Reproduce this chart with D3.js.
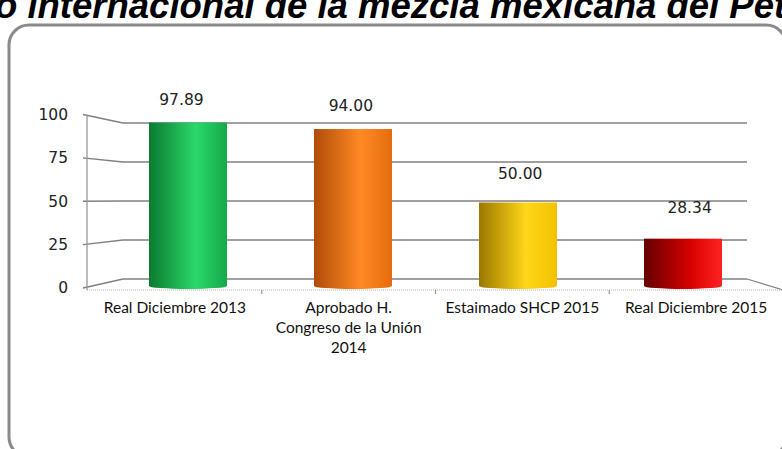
<!DOCTYPE html>
<html>
<head>
<meta charset="utf-8">
<script src="https://cdn.jsdelivr.net/npm/d3@7"></script>
<style>
  html, body { margin: 0; padding: 0; background: #fff; overflow: hidden; }
  svg { display: block; }
</style>
</head>
<body>
<svg id="chart" width="782" height="449"></svg>
<script>
// ---- data ----
const titleText = "Precio internacional de la mezcla mexicana del Petróleo";
const categories = ["Real Diciembre 2013", "Aprobado H. Congreso de la Unión 2014", "Estaimado SHCP 2015", "Real Diciembre 2015"];
const categoryLines = [["Real Diciembre 2013"], ["Aprobado H.", "Congreso de la Unión", "2014"], ["Estaimado SHCP 2015"], ["Real Diciembre 2015"]];
const values = [97.89, 94.00, 50.00, 28.34];
const valueLabels = ["97.89", "94.00", "50.00", "28.34"];
const yTicks = [0, 25, 50, 75, 100];
const barColors = [
  ["#0b7a30", "#2bd86a", "#16a84a"],
  ["#b04c08", "#ff8a25", "#e56c0e"],
  ["#9a7800", "#ffd61a", "#f2c200"],
  ["#650000", "#d80000", "#ff2424"]
];

const svg = d3.select("#chart");

// ---- title (cut at top like the reference) ----
const titleFont = 36.5;
const title = svg.append("text")
  .attr("y", 18)
  .attr("font-family", "Liberation Sans, Arial, sans-serif")
  .attr("font-weight", "bold")
  .attr("font-style", "italic")
  .attr("font-size", titleFont)
  .attr("fill", "#000")
  .text(titleText);
const probe = svg.append("text")
  .attr("font-family", "Liberation Sans, Arial, sans-serif")
  .attr("font-weight", "bold").attr("font-style", "italic").attr("font-size", titleFont)
  .text("Preci");
const prefixW = probe.node().getComputedTextLength();
probe.remove();
title.attr("x", -prefixW - 5);

// ---- frame ----
svg.append("rect")
  .attr("x", 9).attr("y", 25).attr("width", 777).attr("height", 432)
  .attr("rx", 20).attr("ry", 20)
  .attr("fill", "none").attr("stroke", "#8a8a8a").attr("stroke-width", 3);

// ---- scales (3D: front plane, back plane, bar mid plane) ----
const yFront = d3.scaleLinear().domain([0, 100]).range([288, 114.5]);
const yBack = d3.scaleLinear().domain([0, 100]).range([279, 123]);
const yMid = d3.scaleLinear().domain([0, 100]).range([286, 119]);
const xFront = d3.scaleBand().domain(categories).range([88, 783]).padding(0);
const xBack = d3.scaleBand().domain(categories).range([123, 747]).padding(0);
const xMid = d3.scaleBand().domain(categories).range([105.5, 765.5]).padding(0);
const barW = 78;

const gridColor = "#808080";

// back wall gridlines
svg.append("g").selectAll("line").data(yTicks).join("line")
  .attr("x1", xBack.range()[0]).attr("x2", xBack.range()[1])
  .attr("y1", d => yBack(d)).attr("y2", d => yBack(d))
  .attr("stroke", gridColor).attr("stroke-width", 1.5);

// side wall lines (with tick extension)
svg.append("g").selectAll("line").data(yTicks).join("line")
  .attr("x1", xFront.range()[0] - 5).attr("x2", xBack.range()[0])
  .attr("y1", d => yFront(d)).attr("y2", d => yBack(d))
  .attr("stroke", gridColor).attr("stroke-width", 1.4);

// floor right edge
svg.append("line")
  .attr("x1", xBack.range()[1]).attr("y1", yBack(0))
  .attr("x2", xFront.range()[1]).attr("y2", yFront(0) + 2)
  .attr("stroke", gridColor).attr("stroke-width", 1.3);

// y axis vertical line
svg.append("line")
  .attr("x1", xFront.range()[0] - 1).attr("x2", xFront.range()[0] - 1)
  .attr("y1", yFront(100)).attr("y2", yFront(0) + 2)
  .attr("stroke", "#999").attr("stroke-width", 1.3);

// floor front line
svg.append("line")
  .attr("x1", xFront.range()[0] - 1).attr("x2", 782)
  .attr("y1", yFront(0) + 2).attr("y2", yFront(0) + 2)
  .attr("stroke", "#b0b0b0").attr("stroke-width", 1.2).attr("stroke-dasharray", "1,1");

// x ticks between categories
svg.append("g").selectAll("line").data(categories.slice(1)).join("line")
  .attr("x1", d => xFront(d)).attr("x2", d => xFront(d))
  .attr("y1", yFront(0) + 2).attr("y2", yFront(0) + 6)
  .attr("stroke", "#999").attr("stroke-width", 1.2);

// y tick labels
svg.append("g").selectAll("text").data(yTicks).join("text")
  .attr("x", 68).attr("y", d => yFront(d))
  .attr("dy", "0.35em")
  .attr("text-anchor", "end")
  .attr("font-family", "DejaVu Sans, Verdana, sans-serif")
  .attr("font-size", 15.5)
  .attr("fill", "#222")
  .text(d => d);

// ---- bars ----
const defs = svg.append("defs");
barColors.forEach((c, i) => {
  const g = defs.append("linearGradient").attr("id", "grad" + i)
    .attr("x1", "0%").attr("x2", "100%").attr("y1", "0%").attr("y2", "0%");
  g.append("stop").attr("offset", "0%").attr("stop-color", c[0]);
  g.append("stop").attr("offset", "60%").attr("stop-color", c[1]);
  g.append("stop").attr("offset", "100%").attr("stop-color", c[2]);
});

const bars = svg.append("g").selectAll("g").data(values).join("g");
bars.append("ellipse")
  .attr("cx", (d, i) => xMid(categories[i]) + xMid.bandwidth() / 2)
  .attr("cy", yMid(0))
  .attr("rx", barW / 2).attr("ry", 3)
  .attr("fill", (d, i) => `url(#grad${i})`);
bars.append("rect")
  .attr("x", (d, i) => xMid(categories[i]) + xMid.bandwidth() / 2 - barW / 2)
  .attr("width", barW)
  .attr("y", d => yMid(d))
  .attr("height", d => yMid(0) - yMid(d))
  .attr("fill", (d, i) => `url(#grad${i})`);

// value labels
svg.append("g").selectAll("text").data(values).join("text")
  .attr("x", (d, i) => (xMid(categories[i]) + xMid.bandwidth() / 2 + xFront(categories[i]) + xFront.bandwidth() / 2) / 2)
  .attr("y", d => yBack(d) - 27)
  .attr("dy", "0.35em")
  .attr("text-anchor", "middle")
  .attr("font-family", "DejaVu Sans, Verdana, sans-serif")
  .attr("font-size", 15.5)
  .attr("fill", "#222")
  .text((d, i) => valueLabels[i]);

// category labels
const catG = svg.append("g").selectAll("text").data(categories).join("text")
  .attr("x", d => xFront(d) + xFront.bandwidth() / 2)
  .attr("y", 308)
  .attr("text-anchor", "middle")
  .attr("font-family", "Lato, 'Open Sans', sans-serif")
  .attr("font-size", 15.5)
  .attr("fill", "#111");
catG.each(function(d, i) {
  const t = d3.select(this);
  categoryLines[i].forEach((line, j) => {
    t.append("tspan")
      .attr("x", xFront(d) + xFront.bandwidth() / 2)
      .attr("dy", j === 0 ? "0.35em" : 20)
      .text(line);
  });
});
</script>
</body>
</html>
